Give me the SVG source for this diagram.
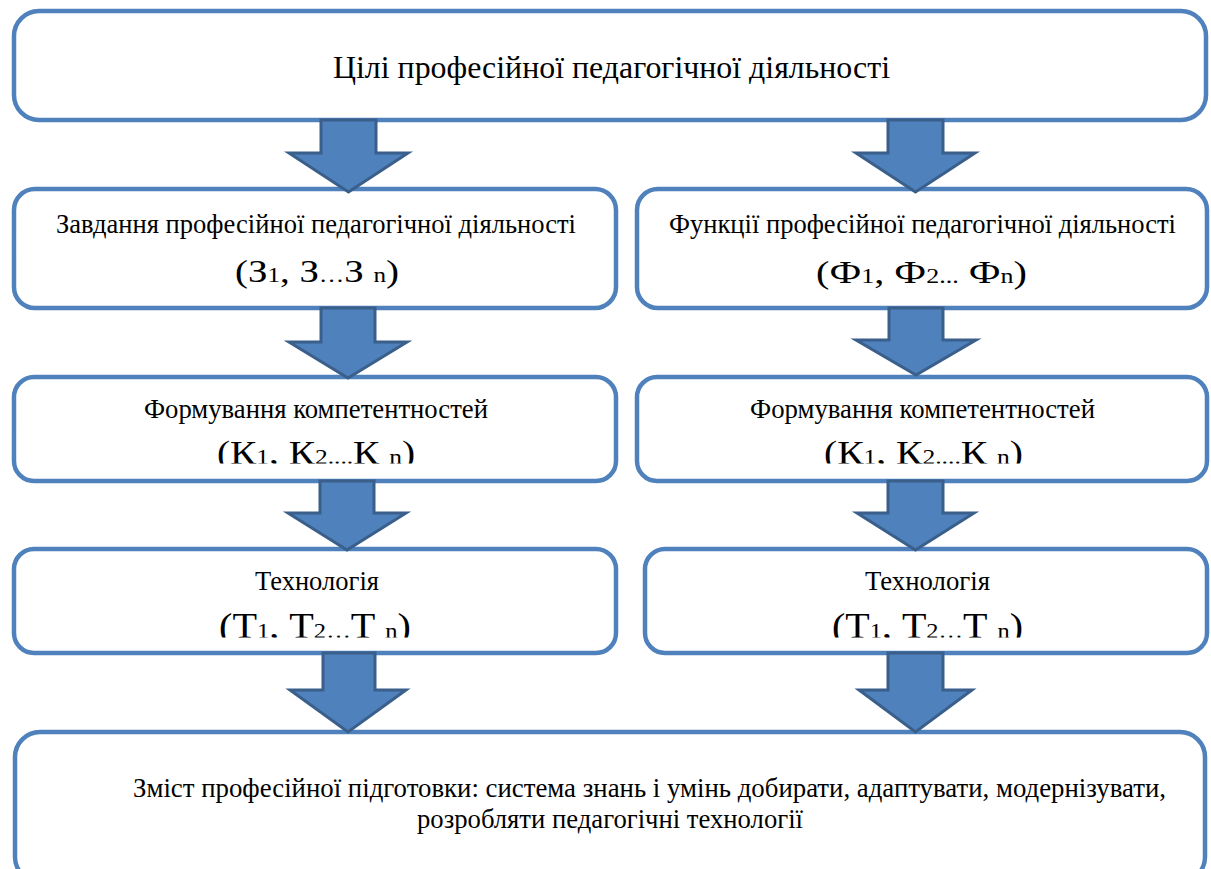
<svg xmlns="http://www.w3.org/2000/svg" width="1211" height="869" viewBox="0 0 1211 869">
  <defs>
    <style>
      .box { fill: #ffffff; stroke: #4f81bd; stroke-width: 4.5; }
      .arrow { fill: #4f81bd; stroke: #3a5f8b; stroke-width: 3; stroke-linejoin: miter; }
      .t { font-family: "Liberation Serif", "Times New Roman", serif; fill: #000000; }
      .title { font-size: 31px; }
      .head { font-size: 26.5px; }
      .big2 { font-size: 31px; }
      .big3 { font-size: 34px; }
      .big4 { font-size: 36px; }
      .sm { font-size: 20px; }
      .sm3 { font-size: 22px; }
      .body { font-size: 26.5px; }
    </style>
    <!-- the second line of the lower boxes is cut off at the bottom -->
    <clipPath id="clipRow3"><rect x="0" y="425" width="1211" height="38.5"/></clipPath>
    <clipPath id="clipRow4"><rect x="0" y="595" width="1211" height="42.5"/></clipPath>
  </defs>

  <rect width="1211" height="869" fill="#ffffff"/>

  <!-- Goals -->
  <g id="goals">
    <rect class="box" x="14" y="11" width="1192" height="109" rx="25"/>
    <text class="t title" x="333" y="78" textLength="557" lengthAdjust="spacingAndGlyphs">Цілі професійної педагогічної діяльності</text>
  </g>

  <!-- Tasks -->
  <g id="tasks">
    <rect class="box" x="14" y="189" width="602" height="119" rx="21"/>
    <text class="t head" x="56" y="233" textLength="520" lengthAdjust="spacingAndGlyphs">Завдання професійної педагогічної діяльності</text>
    <text class="t big2" x="235" y="282" textLength="164" lengthAdjust="spacingAndGlyphs">(З<tspan class="sm">1</tspan>, З<tspan class="sm">…</tspan>З <tspan class="sm">n</tspan>)</text>
  </g>

  <!-- Functions -->
  <g id="functions">
    <rect class="box" x="637" y="189" width="570" height="119" rx="21"/>
    <text class="t head" x="669" y="233" textLength="507" lengthAdjust="spacingAndGlyphs">Функції професійної педагогічної діяльності</text>
    <text class="t big2" x="816" y="283" textLength="211" lengthAdjust="spacingAndGlyphs">(Ф<tspan class="sm">1</tspan>, Ф<tspan class="sm">2...</tspan> Ф<tspan class="sm">n</tspan>)</text>
  </g>

  <!-- Competences, left -->
  <g id="competences-left">
    <rect class="box" x="14" y="377" width="602" height="104" rx="20"/>
    <text class="t head" x="144" y="418" textLength="344" lengthAdjust="spacingAndGlyphs">Формування компетентностей</text>
    <g clip-path="url(#clipRow3)">
      <text class="t big3" x="217" y="464" textLength="198" lengthAdjust="spacingAndGlyphs">(К<tspan class="sm3">1</tspan>, К<tspan class="sm3">2....</tspan>К <tspan class="sm3">n</tspan>)</text>
    </g>
  </g>

  <!-- Competences, right -->
  <g id="competences-right">
    <rect class="box" x="637" y="377" width="570" height="104" rx="20"/>
    <text class="t head" x="750" y="418" textLength="345" lengthAdjust="spacingAndGlyphs">Формування компетентностей</text>
    <g clip-path="url(#clipRow3)">
      <text class="t big3" x="824" y="464" textLength="199" lengthAdjust="spacingAndGlyphs">(К<tspan class="sm3">1</tspan>, К<tspan class="sm3">2....</tspan>К <tspan class="sm3">n</tspan>)</text>
    </g>
  </g>

  <!-- Technology, left -->
  <g id="technology-left">
    <rect class="box" x="14" y="549" width="602" height="104" rx="20"/>
    <text class="t head" x="255" y="590" textLength="124" lengthAdjust="spacingAndGlyphs">Технологія</text>
    <g clip-path="url(#clipRow4)">
      <text class="t big4" x="219" y="638" textLength="192" lengthAdjust="spacingAndGlyphs">(Т<tspan class="sm3">1</tspan>, Т<tspan class="sm3">2…</tspan>Т <tspan class="sm3">n</tspan>)</text>
    </g>
  </g>

  <!-- Technology, right -->
  <g id="technology-right">
    <rect class="box" x="645" y="549" width="562" height="104" rx="20"/>
    <text class="t head" x="865" y="590" textLength="125" lengthAdjust="spacingAndGlyphs">Технологія</text>
    <g clip-path="url(#clipRow4)">
      <text class="t big4" x="832" y="638" textLength="191" lengthAdjust="spacingAndGlyphs">(Т<tspan class="sm3">1</tspan>, Т<tspan class="sm3">2…</tspan>Т <tspan class="sm3">n</tspan>)</text>
    </g>
  </g>

  <!-- Training content -->
  <g id="training-content">
    <rect class="box" x="15" y="732" width="1190" height="150" rx="25"/>
    <text class="t body" x="133" y="797" textLength="1033" lengthAdjust="spacingAndGlyphs">Зміст професійної підготовки: система знань і умінь добирати, адаптувати, модернізувати,</text>
    <text class="t body" x="417" y="828" textLength="386" lengthAdjust="spacingAndGlyphs">розробляти педагогічні технології</text>
  </g>

  <!-- Block arrows between levels -->
  <g id="connectors">
    <polygon class="arrow" points="321,120 376,120 376,153 408,153 348.5,192 289,153 321,153"/>
    <polygon class="arrow" points="888,120 943,120 943,153 975,153 915.5,192 856,153 888,153"/>
    <polygon class="arrow" points="321,308 375,308 375,342 407,342 348,378 289,342 321,342"/>
    <polygon class="arrow" points="889,308 943,308 943,340 976,340 916,375 856,340 889,340"/>
    <polygon class="arrow" points="320,481 374,481 374,513 406,513 347,550 288,513 320,513"/>
    <polygon class="arrow" points="888,481 943,481 943,513 974,513 915.5,550 857,513 888,513"/>
    <polygon class="arrow" points="323,653 375,653 375,690 406,690 348,732 290,690 323,690"/>
    <polygon class="arrow" points="888,653 943,653 943,690 972,690 915.5,732 859,690 888,690"/>
  </g>
</svg>
